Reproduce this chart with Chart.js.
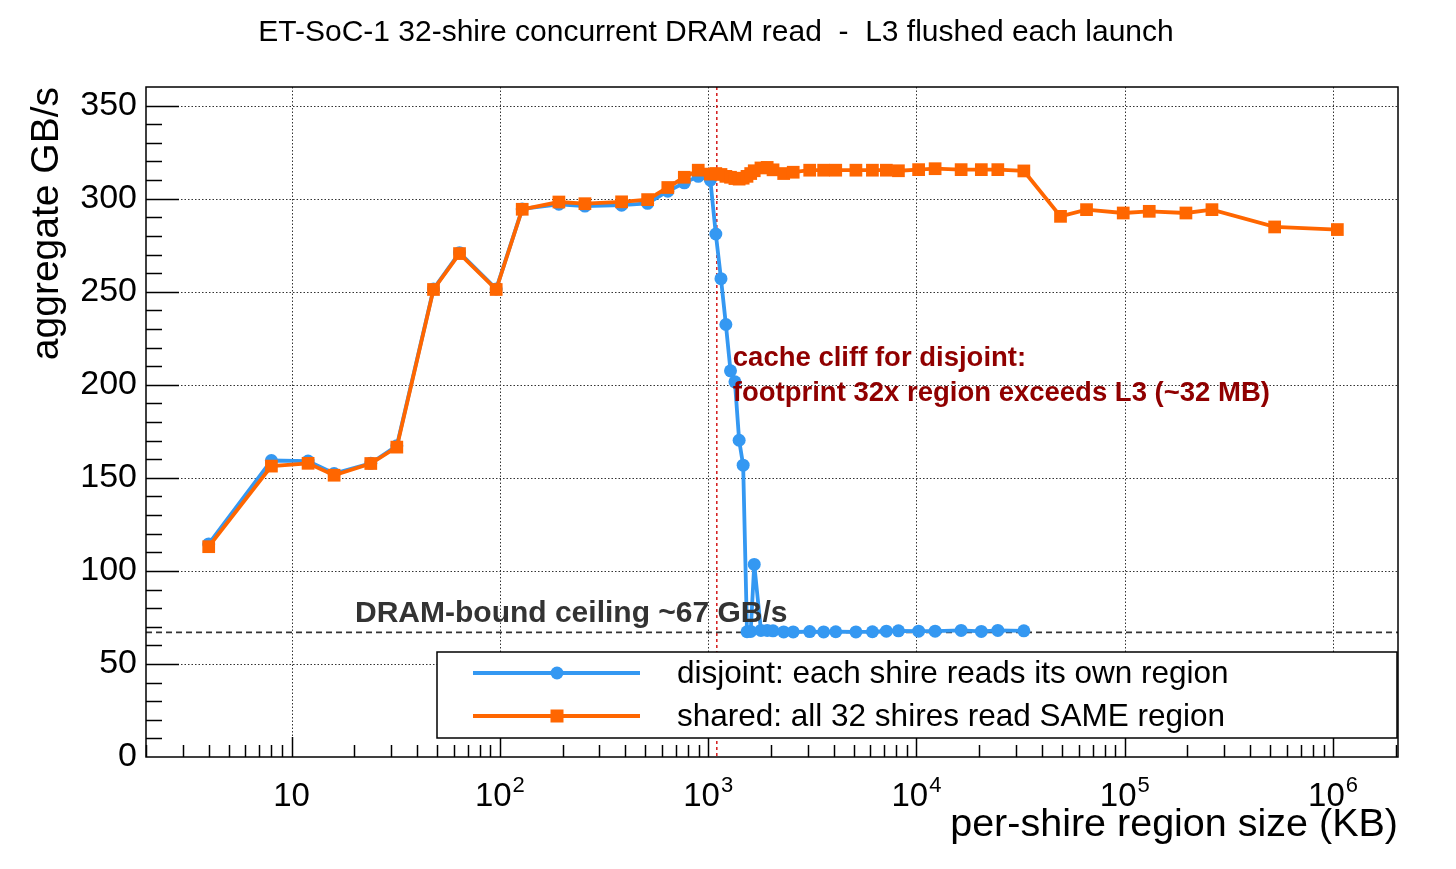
<!DOCTYPE html>
<html>
<head>
<meta charset="utf-8">
<title>ET-SoC-1 32-shire concurrent DRAM read</title>
<script src="https://cdn.jsdelivr.net/npm/chart.js@4.4.1/dist/chart.umd.min.js"></script>
<style>
    html, body { margin: 0; padding: 0; background: #fff; }
    #wrap { width: 1456px; height: 869px; }
</style>
</head>
<body>
<div id="wrap"><canvas id="chart1"></canvas></div>
<script>
(function () {
    'use strict';

    // per-shire region size in KB
    var sizes = [4, 8, 12, 16, 24, 32, 48, 64, 96, 128,
        192, 256, 384, 512, 640, 768, 896, 1024,
        1088, 1152, 1216, 1280, 1344, 1408, 1472, 1536, 1600, 1664,
        1792, 1920, 2048, 2304, 2560,
        3072, 3584, 4096, 5120, 6144, 7168, 8192, 10240, 12288,
        16384, 20480, 24576, 32768,
        49152, 65536, 98304, 131072, 196608, 262144, 524288, 1048576];

    // aggregate GB/s, each shire reads its own region (sweep stops at 32 MB)
    var disjoint = [114.5, 159.3, 159, 152.3, 157.8, 167.2, 251.5, 271, 251.5, 294.5,
        297, 296, 296.5, 297.5, 304, 308.5, 312, 310,
        281, 257, 232.4, 207.5, 201.6, 170.2, 156.8, 67.3, 67.5, 103.5,
        68, 68, 67.8, 67.2, 67.2,
        67.4, 67.2, 67.3, 67.2, 67.3, 67.6, 67.8, 67.6, 67.6,
        68, 67.5, 68, 67.8];

    // aggregate GB/s, all 32 shires read the same region
    var shared = [113, 156.3, 157.8, 151.4, 157.7, 166.5, 251.2, 270.5, 251.2, 294.3,
        298.2, 297.3, 298.3, 299.5, 306, 311.5, 315.3, 313.2,
        313.5, 313, 312, 311.5, 310.8, 310.5, 311, 312, 313.5, 315,
        316.5, 316.8, 315.5, 313.5, 314.2,
        315.3, 315.3, 315.3, 315.3, 315.3, 315.3, 315, 315.6, 316.1,
        315.6, 315.6, 315.6, 314.9,
        290.5, 294.1, 292.3, 293.2, 292.3, 294.1, 284.8, 283.4];

    var xDecades = [10, 100, 1000, 10000, 100000, 1000000];
    var xExponents = ['', '2', '3', '4', '5', '6'];
    var yMajor = [0, 50, 100, 150, 200, 250, 300, 350];

    var dramCeiling = 67;   // GB/s
    var cliffKB = 1100;     // L3 boundary marker

    var FONT = "'Liberation Sans', Arial, Helvetica, sans-serif";
    var BLUE = '#3498f2';
    var ORANGE = '#ff6600';

    Chart.defaults.font.family = FONT;
    Chart.defaults.color = '#000';

    function toPoints(values) {
        var pts = [];
        for (var i = 0; i < values.length; i++) {
            pts.push({ x: sizes[i], y: values[i] });
        }
        return pts;
    }

    function line(c, x1, y1, x2, y2) {
        c.beginPath();
        c.moveTo(x1, y1);
        c.lineTo(x2, y2);
        c.stroke();
    }

    function marker(c, style, x, y, color) {
        c.fillStyle = color;
        c.beginPath();
        if (style === 'rect') {
            c.rect(x - 6.5, y - 6.5, 13, 13);
        } else {
            c.arc(x, y, 6.5, 0, Math.PI * 2);
        }
        c.fill();
    }

    var rootStyle = {
        id: 'rootStyle',
        beforeDatasetsDraw: function (chart) {
            var c = chart.ctx, a = chart.chartArea,
                xs = chart.scales.x, ys = chart.scales.y, px, py;
            c.save();

            c.strokeStyle = '#333';
            c.lineWidth = 1;
            c.setLineDash([1.5, 2]);
            xDecades.forEach(function (v) {
                px = Math.round(xs.getPixelForValue(v)) + 0.5;
                line(c, px, a.top, px, a.bottom);
            });
            yMajor.forEach(function (v) {
                if (v === 0) { return; }
                py = Math.round(ys.getPixelForValue(v)) + 0.5;
                line(c, a.left, py, a.right, py);
            });

            c.strokeStyle = '#d41a1a';
            c.lineWidth = 1.5;
            c.setLineDash([3, 3]);
            px = xs.getPixelForValue(cliffKB);
            line(c, px, a.top, px, a.bottom);

            c.strokeStyle = '#333';
            c.lineWidth = 1.8;
            c.setLineDash([6, 4]);
            py = ys.getPixelForValue(dramCeiling);
            line(c, a.left, py, a.right, py);

            c.restore();
        },
        afterDatasetsDraw: function (chart) {
            var c = chart.ctx, a = chart.chartArea,
                xs = chart.scales.x, ys = chart.scales.y, px, py, v, d, m;
            c.save();

            // ROOT style inward ticks
            c.strokeStyle = '#000';
            c.lineWidth = 1.5;
            for (v = 10; v < 360; v += 10) {
                py = Math.round(ys.getPixelForValue(v)) + 0.5;
                line(c, a.left, py, a.left + (v % 50 === 0 ? 33 : 16), py);
            }
            for (d = 1; d <= 1e6; d *= 10) {
                for (m = 1; m <= 9; m++) {
                    v = m * d;
                    if (v < xs.min || v > xs.max) { continue; }
                    px = Math.round(xs.getPixelForValue(v)) + 0.5;
                    line(c, px, a.bottom, px, a.bottom - (m === 1 ? 20 : 12));
                }
            }

            // frame
            c.lineWidth = 1.5;
            c.strokeRect(a.left, a.top, a.right - a.left, a.bottom - a.top);

            // x tick labels with exponents
            c.fillStyle = '#000';
            c.textBaseline = 'alphabetic';
            c.textAlign = 'left';
            xDecades.forEach(function (val, i) {
                var base = '10', sup = xExponents[i], wb, ws = 0;
                c.font = '33px ' + FONT;
                wb = c.measureText(base).width;
                if (sup) {
                    c.font = '22px ' + FONT;
                    ws = c.measureText(sup).width + 1;
                }
                px = xs.getPixelForValue(val) - (wb + ws) / 2;
                c.font = '33px ' + FONT;
                c.fillText(base, px, a.bottom + 49);
                if (sup) {
                    c.font = '22px ' + FONT;
                    c.fillText(sup, px + wb + 1, a.bottom + 35);
                }
            });

            // chart title
            c.font = '30px ' + FONT;
            c.textAlign = 'center';
            c.fillText('ET-SoC-1 32-shire concurrent DRAM read  -  L3 flushed each launch', 716, 41);

            // annotations
            c.textAlign = 'left';
            c.font = 'bold 30px ' + FONT;
            c.fillStyle = '#333';
            c.fillText('DRAM-bound ceiling ~67 GB/s', 355, ys.getPixelForValue(dramCeiling) - 10);

            c.font = 'bold 27.5px ' + FONT;
            c.fillStyle = '#900000';
            px = xs.getPixelForValue(cliffKB) + 16;
            c.fillText('cache cliff for disjoint:', px, ys.getPixelForValue(210));
            c.fillText('footprint 32x region exceeds L3 (~32 MB)', px, ys.getPixelForValue(191.5));

            // legend
            var l = a.left + 291, r = a.right - 1, t = a.bottom - 105, b = a.bottom - 19;
            c.fillStyle = '#fff';
            c.fillRect(l, t, r - l, b - t);
            c.strokeStyle = '#000';
            c.lineWidth = 1.5;
            c.strokeRect(l, t, r - l, b - t);
            c.font = '31.5px ' + FONT;
            c.textBaseline = 'middle';
            chart.data.datasets.forEach(function (ds, i) {
                var ey = t + 21 + i * 43;
                c.strokeStyle = ds.borderColor;
                c.lineWidth = 3.8;
                line(c, l + 36, ey, l + 203, ey);
                marker(c, ds.pointStyle, l + 120, ey, ds.borderColor);
                c.fillStyle = '#000';
                c.fillText(ds.label, l + 240, ey + 1);
            });

            c.restore();
        }
    };

    var ctx = document.getElementById('chart1');
    new Chart(ctx, {
        type: 'line',
        data: {
            datasets: [
                {
                    label: 'disjoint: each shire reads its own region',
                    data: toPoints(disjoint),
                    borderColor: BLUE,
                    backgroundColor: BLUE,
                    borderWidth: 3.8,
                    pointStyle: 'circle',
                    pointRadius: 6.5,
                    pointBorderWidth: 0,
                    tension: 0,
                    order: 1
                },
                {
                    label: 'shared: all 32 shires read SAME region',
                    data: toPoints(shared),
                    borderColor: ORANGE,
                    backgroundColor: ORANGE,
                    borderWidth: 3.8,
                    pointStyle: 'rect',
                    pointRadius: 9,
                    pointBorderWidth: 0,
                    tension: 0,
                    order: 0
                }
            ]
        },
        options: {
            responsive: true,
            maintainAspectRatio: false,
            animation: false,
            devicePixelRatio: 1,
            layout: { padding: { top: 87, right: 58, left: 0, bottom: 0 } },
            plugins: {
                legend: { display: false },
                tooltip: { enabled: false },
                title: { display: false }
            },
            scales: {
                x: {
                    type: 'logarithmic',
                    min: 2,
                    max: 2.05e6,
                    grid: { display: false, drawTicks: false },
                    border: { display: false },
                    ticks: { display: false },
                    afterBuildTicks: function (scale) {
                        scale.ticks = xDecades.map(function (v) { return { value: v }; });
                    },
                    afterFit: function (scale) { scale.height = 112; },
                    title: {
                        display: true,
                        text: 'per-shire region size (KB)',
                        align: 'end',
                        color: '#000',
                        font: { size: 39.5 },
                        padding: { top: 0, bottom: 20 }
                    }
                },
                y: {
                    min: 0,
                    max: 360,
                    grid: { display: false, drawTicks: false },
                    border: { display: false },
                    afterBuildTicks: function (scale) {
                        scale.ticks = yMajor.map(function (v) { return { value: v }; });
                    },
                    afterFit: function (scale) { scale.width = 146; },
                    ticks: {
                        color: '#000',
                        padding: 9,
                        font: { size: 34 },
                        callback: function (value) { return String(value); }
                    },
                    title: {
                        display: true,
                        text: 'aggregate GB/s',
                        align: 'end',
                        color: '#000',
                        font: { size: 39 },
                        padding: { top: 24, bottom: 0 }
                    }
                }
            }
        },
        plugins: [rootStyle]
    });
})();
</script>
</body>
</html>
